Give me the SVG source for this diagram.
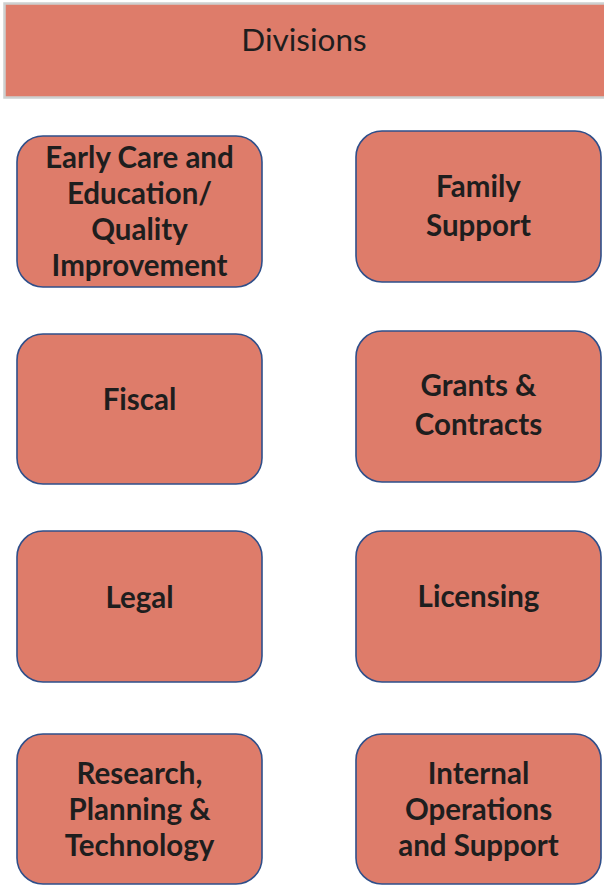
<svg xmlns="http://www.w3.org/2000/svg" width="604" height="885" viewBox="0 0 604 885">
<style>
.box{fill:#DE7C6A;stroke:#2F4F8A;stroke-width:1.6}
.t{font-family:Lato,"Liberation Sans",sans-serif;font-weight:bold;font-size:29.5px;fill:#1e1e1e;text-anchor:middle}
.h{font-family:Lato,"Liberation Sans",sans-serif;font-size:31.5px;fill:#1e1e1e;text-anchor:middle}
</style>
<rect width="604" height="885" fill="#fff"/>
<g id="header">
<rect x="4.5" y="3.5" width="602" height="94" fill="#DE7C6A" stroke="#CDD0D0" stroke-width="2.5"/>
<text class="h" x="304" y="51">Divisions</text>
</g>
<g id="connectors"></g>
<g id="n1">
<rect class="box" x="17" y="136" width="245" height="151" rx="26"/>
<text class="t" x="139.5" y="168">Early Care and</text>
<text class="t" x="139.5" y="204">Education/</text>
<text class="t" x="139.5" y="240">Quality</text>
<text class="t" x="139.5" y="276">Improvement</text>
</g>
<g id="n2">
<rect class="box" x="356" y="131" width="245" height="151" rx="26"/>
<text class="t" x="478.5" y="197">Family</text>
<text class="t" x="478.5" y="236">Support</text>
</g>
<g id="n3">
<rect class="box" x="17" y="334" width="245" height="150" rx="26"/>
<text class="t" x="139.5" y="410">Fiscal</text>
</g>
<g id="n4">
<rect class="box" x="356" y="331" width="245" height="151" rx="26"/>
<text class="t" x="478.5" y="396">Grants &amp;</text>
<text class="t" x="478.5" y="435">Contracts</text>
</g>
<g id="n5">
<rect class="box" x="17" y="531" width="245" height="151" rx="26"/>
<text class="t" x="139.5" y="608">Legal</text>
</g>
<g id="n6">
<rect class="box" x="356" y="531" width="245" height="151" rx="26"/>
<text class="t" x="478.5" y="607">Licensing</text>
</g>
<g id="n7">
<rect class="box" x="17" y="734" width="245" height="150" rx="26"/>
<text class="t" x="139.5" y="784">Research,</text>
<text class="t" x="139.5" y="820">Planning &amp;</text>
<text class="t" x="139.5" y="856">Technology</text>
</g>
<g id="n8">
<rect class="box" x="356" y="734" width="245" height="150" rx="26"/>
<text class="t" x="478.5" y="784">Internal</text>
<text class="t" x="478.5" y="820">Operations</text>
<text class="t" x="478.5" y="856">and Support</text>
</g>
</svg>
